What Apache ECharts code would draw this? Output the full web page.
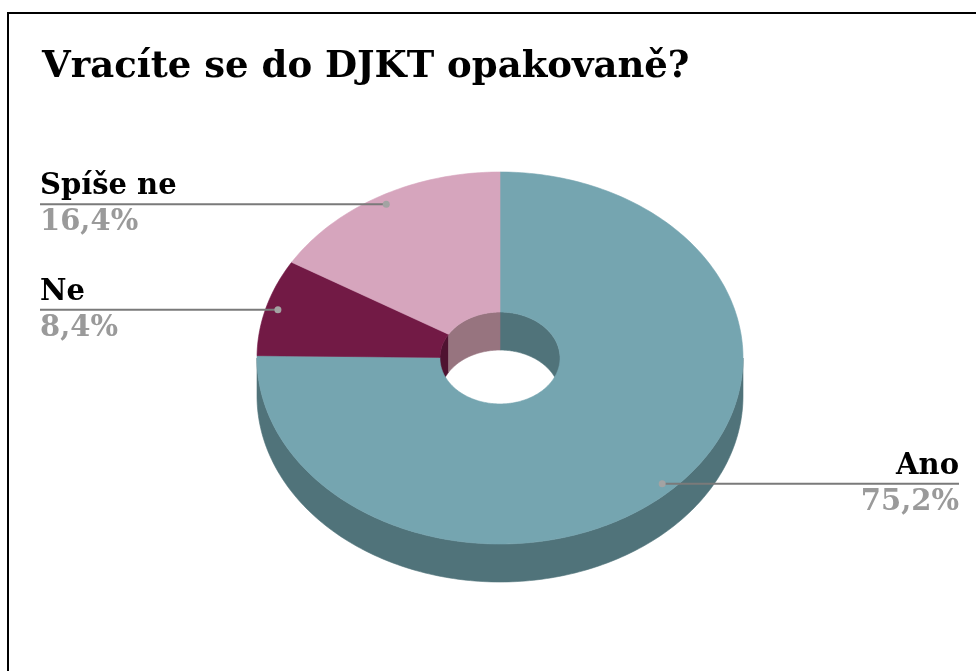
<!DOCTYPE html>
<html>
<head>
<meta charset="utf-8">
<script src="https://cdn.jsdelivr.net/npm/echarts@6/dist/echarts.min.js"></script>
<style>
html, body { margin: 0; padding: 0; background: #fff; }
#main { width: 976px; height: 671px; }
</style>
</head>
<body>
<div id="main"></div>
<script>
// data
var categories = ['Ano', 'Ne', 'Spíše ne'];
var values = [75.2, 8.4, 16.4];

// colours: top face / shaded wall
var topColors = ['#75a5b0', '#721a45', '#d6a5bd'];
var sideColors = ['#50737a', '#4f1331', '#97747f'];

// tilted doughnut geometry
var cx = 500, cy = 358, rx = 243, ry = 186, depth = 38, hole = 0.247;
var total = values.reduce(function (a, b) { return a + b; }, 0);
var serif = '"DejaVu Serif", "Liberation Serif", serif';

function pt(theta, k, dy) {
    var r = theta * Math.PI / 180;
    return [cx + rx * k * Math.sin(r), cy - ry * k * Math.cos(r) + (dy || 0)];
}
function arc(a0, a1, k, dy) {
    var pts = [];
    var n = Math.max(2, Math.ceil(Math.abs(a1 - a0)));
    for (var i = 0; i <= n; i++) {
        pts.push(pt(a0 + (a1 - a0) * i / n, k, dy));
    }
    return pts;
}
function wall(a0, a1, k) {
    return arc(a0, a1, k, 0).concat(arc(a1, a0, k, depth));
}
function overlap(a0, a1, b0, b1) {
    var s = Math.max(a0, b0), e = Math.min(a1, b1);
    return s < e ? [s, e] : null;
}
function pctText(v) {
    return v.toFixed(1).replace('.', ',') + '%';
}

function renderSlice(params, api) {
    var idx = params.dataIndex;
    var start = 0;
    for (var i = 0; i < idx; i++) start += values[i] / total * 360;
    var end = start + api.value(1) / total * 360;
    var children = [];

    // top face (ring sector)
    children.push({
        type: 'polygon',
        shape: { points: arc(start, end, 1, 0).concat(arc(end, start, hole, 0)) },
        style: { fill: topColors[idx], stroke: topColors[idx], lineWidth: 0.6 },
        z2: 10
    });
    // outer wall, front half only
    var f = overlap(start, end, 90, 270);
    if (f) {
        children.push({
            type: 'polygon',
            shape: { points: wall(f[0], f[1], 1) },
            style: { fill: sideColors[idx], stroke: sideColors[idx], lineWidth: 0.6 },
            z2: 2
        });
    }
    // inner wall, far half only (seen through the hole)
    [[0, 90], [270, 360]].forEach(function (r) {
        var o = overlap(start, end, r[0], r[1]);
        if (o) {
            children.push({
                type: 'polygon',
                shape: { points: wall(o[0], o[1], hole) },
                style: { fill: sideColors[idx], stroke: sideColors[idx], lineWidth: 0.6 },
                z2: 2
            });
        }
    });

    // label with leader line
    var mid = (start + end) / 2;
    var a = pt(mid, 0.95, 0);
    var left = a[0] < cx;
    var lx = left ? 40 : 959;
    var align = left ? 'left' : 'right';
    children.push({
        type: 'polyline',
        shape: { points: [[lx, a[1]], [a[0], a[1]]] },
        style: { stroke: '#7a7a7a', lineWidth: 2, fill: null },
        z2: 20
    });
    children.push({
        type: 'circle',
        shape: { cx: a[0], cy: a[1], r: 3.5 },
        style: { fill: '#a3a3a3' },
        z2: 21
    });
    children.push({
        type: 'text',
        x: lx, y: a[1] - 3,
        style: {
            text: categories[idx],
            textAlign: align, textVerticalAlign: 'bottom',
            font: 'bold 29px ' + serif, fill: '#000'
        },
        z2: 20
    });
    children.push({
        type: 'text',
        x: lx, y: a[1] + 4,
        style: {
            text: pctText(api.value(1)),
            textAlign: align, textVerticalAlign: 'top',
            font: 'bold 29px ' + serif, fill: '#9a9a9a'
        },
        z2: 20
    });

    return { type: 'group', children: children };
}

var myChart = echarts.init(document.getElementById('main'));
myChart.setOption({
    animation: false,
    title: {
        text: 'Vracíte se do DJKT opakovaně?',
        left: 37,
        top: 44,
        textStyle: { fontFamily: serif, fontWeight: 'bold', fontSize: 37, color: '#000' }
    },
    graphic: [{
        type: 'rect',
        shape: { x: 8, y: 13, width: 1000, height: 700 },
        style: { fill: 'none', stroke: '#000', lineWidth: 2 },
        silent: true
    }],
    series: [{
        type: 'custom',
        coordinateSystem: 'none',
        silent: true,
        data: values.map(function (v, i) { return [i, v]; }),
        renderItem: renderSlice
    }]
});
</script>
</body>
</html>
